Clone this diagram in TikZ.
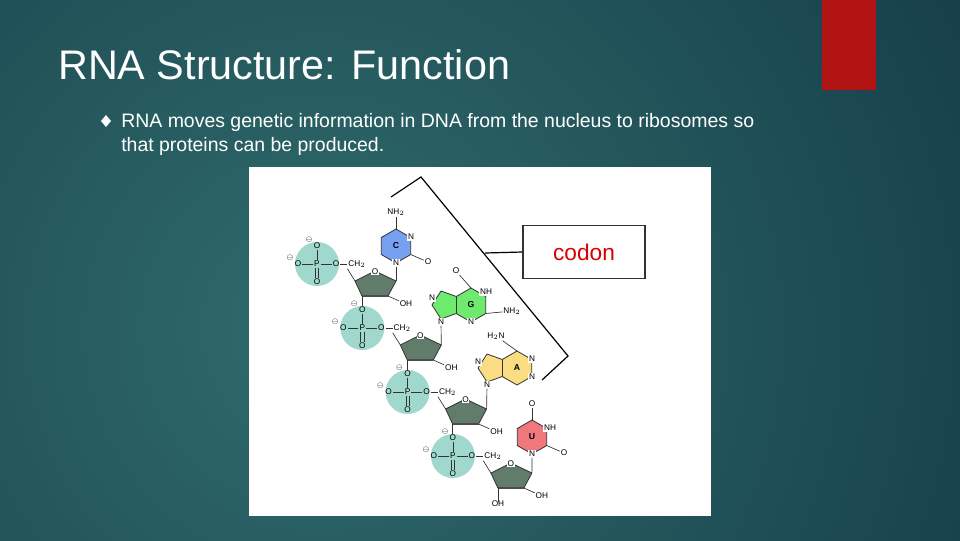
\documentclass[tikz,border=0pt]{standalone}
\usepackage{fontspec}
\setmainfont{Liberation Sans}
\setsansfont{Liberation Sans}
\usetikzlibrary{positioning, calc}
\definecolor{bgin}{RGB}{48,108,108}
\definecolor{bgout}{RGB}{16,52,66}
\definecolor{accent}{RGB}{178,20,20}
\definecolor{phos}{RGB}{160,216,206}
\definecolor{sugar}{RGB}{98,124,108}
\definecolor{cytos}{RGB}{120,160,240}
\definecolor{guan}{RGB}{110,235,110}
\definecolor{aden}{RGB}{250,220,130}
\definecolor{urac}{RGB}{240,120,125}
\tikzset{
  atom/.style={font=\sffamily\fontsize{6.2}{7}\selectfont, inner sep=0.6pt, fill=white},
  latom/.style={font=\sffamily\bfseries\fontsize{6.5}{7}\selectfont, inner sep=0pt},
  bond/.style={line width=0.5pt, black!80},
  ring/.style={draw=black!80, line width=0.6pt},
  slide/.style={text=white, font=\sffamily, inner sep=0pt},
}
% pyrimidine ring: #1 centre, #2 colour, #3 letter
\newcommand{\pyrring}[3]{
  \fill[#2, ring] ($#1+(90:17)$) -- ($#1+(30:17)$) -- ($#1+(-30:17)$) -- ($#1+(-90:17)$) -- ($#1+(-150:17)$) -- ($#1+(150:17)$) -- cycle;
  \node[latom] at #1 {#3};
}
% purine rings: #1 centre of the six ring, #2 colour, #3 letter
\newcommand{\purring}[3]{
  \fill[#2, ring] ($#1+(90:17)$) -- ($#1+(30:17)$) -- ($#1+(-30:17)$) -- ($#1+(-90:17)$) -- ($#1+(-150:17)$) -- ($#1+(-30,-14)$) -- ($#1+(-39,0)$) -- ($#1+(-30,14)$) -- ($#1+(150:17)$) -- cycle;
  \draw[ring] ($#1+(-150:17)$) -- ($#1+(150:17)$);
  \node[latom] at #1 {#3};
}
\begin{document}
\begin{tikzpicture}[x=0.75pt, y=-0.75pt]
\useasboundingbox (0,0) rectangle (960,540);

% Background
\begin{scope}
  \clip (0,0) rectangle (960,540);
  \fill[bgout] (0,0) rectangle (960,540);
  \shade[inner color=bgin, outer color=bgout] (320,330) circle (900);
\end{scope}
\fill[accent] (822,0) rectangle (876,90);

% Title and bullet
\node (title) [slide, anchor=base west, font=\sffamily\fontsize{31}{36}\selectfont] at (58,79) {RNA Structure: Function};
\fill[white] (106,115) -- (111,121) -- (106,127) -- (101,121) -- cycle;
\node (line1) [slide, anchor=base west, font=\sffamily\fontsize{14.6}{16}\selectfont] at (121,127) {RNA moves genetic information in DNA from the nucleus to ribosomes so};
\node (line2) [slide, anchor=base west, font=\sffamily\fontsize{14.6}{16}\selectfont] at (121,151) {that proteins can be produced.};

% Picture panel
\fill[white] (249,167) rectangle (711,516);

% Nucleotides
\foreach \i in {0,1,2,3}{
  \begin{scope}[shift={(\i*45.3,\i*64)}]
    \fill[phos] (317,264) circle (22);
    \node (p) [atom, fill=none] at (317,264) {P};
    \node (ot) [atom, fill=none] at (317,246) {O};
    \node (ob) [atom, fill=none] at (317,282) {O};
    \node (ol) [atom, fill=none] at (298,264) {O};
    \node (or) [atom, fill=none] at (336,264) {O};
    \node (ch) [atom] at (357,264) {CH$_2$};
    \node[font=\fontsize{4.5}{4}\selectfont, inner sep=0pt] at (309,240) {$\ominus$};
    \node[font=\fontsize{4.5}{4}\selectfont, inner sep=0pt] at (290,258) {$\ominus$};
    \draw[bond] (p) -- (ot);
    \draw[bond] (p) -- (ol);
    \draw[bond] (p) -- (or);
    \draw[bond] (or) -- (ch);
    \draw[bond] ([xshift=-1.2]p.south) -- ([xshift=-1.2]ob.north);
    \draw[bond] ([xshift=1.2]p.south) -- ([xshift=1.2]ob.north);
    % sugar
    \coordinate (stl) at (355,281);
    \coordinate (str) at (396,281);
    \coordinate (sbr) at (388,296);
    \coordinate (sbl) at (362,296);
    \fill[sugar, ring] (375,271) -- (str) -- (sbr) -- (sbl) -- (stl) -- cycle;
    \draw[line width=1.6pt, black!70] (sbl) -- (sbr);
    \node (so) [atom, inner sep=0.3pt] at (375,272) {O};
    \draw[bond] (ch.south west) -- (stl);
    \node (oh) [atom, fill=none] at (406,304) {OH};
    \draw[bond] (sbr) -- (oh);
    \coordinate (down) at (362,310);
    \draw[bond] (sbl) -- (down);
  \end{scope}
}
\node (ohend) [atom, fill=none] at (498,504) {OH};
\draw[bond] (498,489) -- (ohend);

% C (unit 1)
\pyrring{(396,246)}{cytos}{C}
\node (cn) [atom] at (396,263) {N};
\node (cnh) [atom, fill=none] at (396,212) {NH$_2$};
\node (cn3) [atom] at (411,237) {N};
\node (co) [atom, fill=none] at (428,262) {O};
\draw[bond] (396,229) -- (cnh);
\draw[bond] (410.7,254.5) -- (co);
\draw[bond] (cn) -- (396,281);

% G (unit 2)
\purring{(471,305)}{guan}{G}
\node (gn9) [atom] at (441,322) {N};
\node (gn7) [atom] at (432,298) {N};
\node (gn1) [atom] at (486,292) {NH};
\node (gn3) [atom] at (471,322) {N};
\node (gnh) [atom, fill=none] at (512,311) {NH$_2$};
\node (go) [atom, fill=none] at (456,271) {O};
\draw[bond] (471,288) -- (go);
\draw[bond] (485.7,313.5) -- (gnh);
\draw[bond] (gn9) -- (441.3,345);

% A (unit 3)
\purring{(517,368)}{aden}{A}
\node (an9) [atom] at (487,385) {N};
\node (an7) [atom] at (478,362) {N};
\node (an1) [atom] at (532,359) {N};
\node (an3) [atom] at (532,377) {N};
\node (anh) [atom, fill=none] at (496,336) {H$_2$N};
\draw[bond] (517,351) -- (anh);
\draw[bond] (an9) -- (486.6,409);

% U (unit 4)
\pyrring{(532,437)}{urac}{U}
\node (un) [atom] at (532,454) {N};
\node (unh) [atom] at (550,428) {NH};
\node (uo1) [atom, fill=none] at (532,404) {O};
\node (uo2) [atom, fill=none] at (564,453) {O};
\draw[bond] (532,420) -- (uo1);
\draw[bond] (546.7,445.5) -- (uo2);
\draw[bond] (un) -- (531.9,473);

% Codon bracket and label
\node (codon) [draw=black!80, line width=0.8pt, minimum width=122*0.75pt, minimum height=53*0.75pt, text=red!85!black, font=\sffamily\fontsize{17}{20}\selectfont] at (584,252) {codon};
\coordinate (br1) at (391,197);
\coordinate (br2) at (421,177);
\coordinate (br3) at (568,356);
\coordinate (br4) at (542,380);
\coordinate (brm) at (485,253);
\draw[line width=0.9pt] (br1) -- (br2) -- (br3) -- (br4);
\draw[line width=0.9pt] (brm) -- (codon.west);
\end{tikzpicture}
\end{document}
